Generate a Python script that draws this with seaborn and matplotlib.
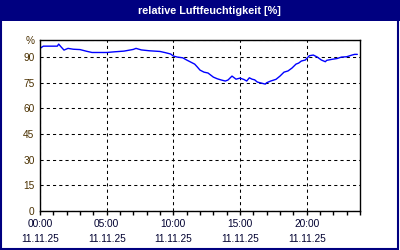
import matplotlib
matplotlib.use("Agg")
import matplotlib.pyplot as plt
import matplotlib.patches as patches
import seaborn as sns
import pandas as pd
import numpy as np

# Stunden seit 00:00 und relative Luftfeuchtigkeit in %
hours = [0.0, 0.25, 1.0, 1.3, 1.4, 1.6, 1.8, 2.1, 2.5, 3.0, 3.5, 3.9, 4.5, 5.0,
         5.6, 6.3, 7.0, 7.2, 7.6, 8.2, 9.0, 9.4, 9.8, 10.0, 10.3, 10.7, 11.0,
         11.3, 11.6, 11.8, 12.0, 12.3, 12.6, 12.8, 13.0, 13.3, 13.6, 13.9, 14.1,
         14.4, 14.7, 15.0, 15.3, 15.5, 15.7, 15.9, 16.1, 16.3, 16.6, 16.9, 17.0,
         17.3, 17.7, 18.0, 18.3, 18.6, 18.9, 19.2, 19.4, 19.6, 19.9, 20.2, 20.5,
         20.8, 21.1, 21.4, 21.5, 21.9, 22.3, 22.6, 23.0, 23.4, 23.6, 23.8]
humidity = [95.1, 96.4, 96.4, 96.4, 97.6, 95.8, 94.1, 95.1, 94.6, 94.4, 93.4,
            92.7, 92.7, 92.7, 93.1, 93.5, 94.5, 95.1, 94.2, 93.7, 93.3, 92.6,
            91.8, 90.6, 90.0, 89.6, 88.3, 87.1, 85.9, 84.2, 82.4, 81.2, 80.7,
            79.5, 78.3, 77.3, 76.6, 76.0, 76.6, 78.9, 77.1, 77.7, 76.9, 76.0,
            77.9, 77.1, 76.7, 75.4, 74.8, 74.2, 75.0, 76.0, 77.0, 78.9, 81.2,
            81.9, 83.6, 85.9, 86.5, 87.7, 88.3, 90.8, 91.2, 90.0, 88.3, 87.3,
            88.1, 88.7, 89.2, 90.0, 90.2, 91.2, 91.6, 91.6]

x_ticks = [0, 5, 10, 15, 20]
x_labels = ['00:00\n11.11.25', '05:00\n11.11.25', '10:00\n11.11.25',
            '15:00\n11.11.25', '20:00\n11.11.25']
y_ticks = [0, 15, 30, 45, 60, 75, 90, 100]
y_labels = ['0', '15', '30', '45', '60', '75', '90', '%']
title = 'relative Luftfeuchtigkeit [%]'

navy = '#000080'

sns.set_style('white')
plt.rcParams['font.family'] = ['Liberation Sans', 'DejaVu Sans']

df = pd.DataFrame({'h': hours, 'rh': humidity})

fig = plt.figure(figsize=(4, 2.5), dpi=100, facecolor='white')
ax = fig.add_axes([0.1, 0.156, 0.8, 0.684])

sns.lineplot(data=df, x='h', y='rh', color='#0000ff', linewidth=1, ax=ax)

ax.set_xlim(0, 24)
ax.set_ylim(0, 100)
ax.set_xticks(x_ticks, labels=x_labels)
ax.set_xticks(np.arange(0, 25, 1), minor=True)
ax.set_yticks(y_ticks, labels=y_labels)
ax.set_xlabel('')
ax.set_ylabel('')

ax.tick_params(axis='x', which='both', direction='out', length=3, width=1,
               color='black', labelsize=7.3, labelcolor='#000030', pad=3,
               bottom=True)
ax.tick_params(axis='y', which='both', length=0, labelsize=7.3,
               labelcolor='#4a3000', pad=4)
for lab in ax.get_xticklabels():
    lab.set_linespacing(1.6)

ax.grid(True, which='major', color='black', linestyle=(0, (3, 3)), linewidth=0.75)
for s in ax.spines.values():
    s.set_color('black')
    s.set_linewidth(1)

# Titelleiste
fig.patches.append(patches.Rectangle((0, 0.918), 1, 0.082, transform=fig.transFigure,
                                     facecolor=navy, edgecolor='none', zorder=0))
fig.text(0.523, 0.958, title, color='white', fontsize=7.8, fontweight='bold',
         ha='center', va='center')
# Rahmen
fig.patches.append(patches.Rectangle((0.002, 0.004), 0.994, 0.99, transform=fig.transFigure,
                                     facecolor='none', edgecolor=navy, linewidth=1.5))

fig.savefig('out.png', dpi=100, facecolor='white')
